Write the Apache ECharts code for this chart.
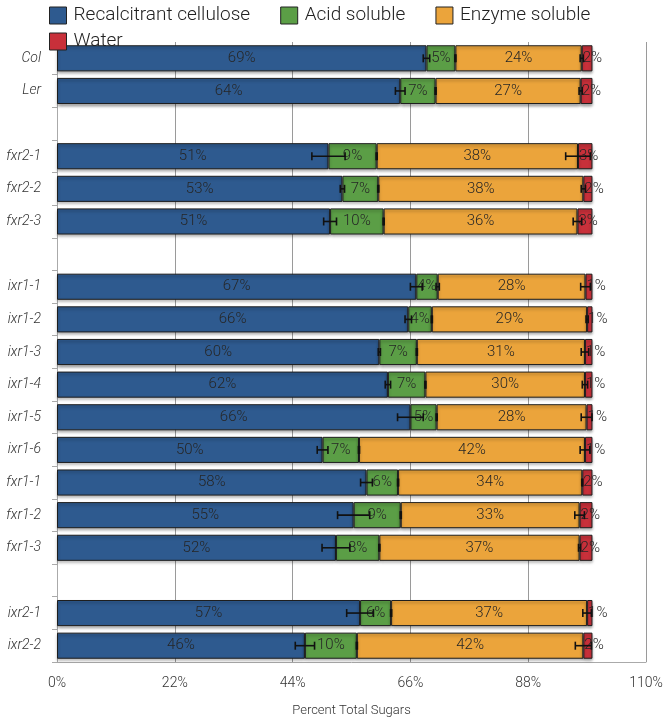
<!DOCTYPE html>
<html><head><meta charset="utf-8">
<script src="https://cdn.jsdelivr.net/npm/echarts@6/dist/echarts.min.js"></script>
<style>html,body{margin:0;padding:0;background:#fff}#c{width:666px;height:719px}</style>
</head><body><div id="c"></div>
<script>
var categories = ['Col','Ler',' ','fxr2-1','fxr2-2','fxr2-3','  ','ixr1-1','ixr1-2','ixr1-3','ixr1-4','ixr1-5','ixr1-6','fxr1-1','fxr1-2','fxr1-3','   ','ixr2-1','ixr2-2'];
var recalcitrant = [69.0,64.1,null,50.7,53.3,51.0,null,67.1,65.6,60.2,61.8,66.0,49.6,57.8,55.4,52.1,null,56.6,46.3];
var acidSoluble  = [5.4,6.6,null,9.0,6.7,10.0,null,4.0,4.4,7.0,7.0,4.9,6.8,5.9,8.8,8.1,null,5.8,9.7];
var enzymeSoluble= [23.6,27.1,null,37.6,38.3,36.2,null,27.6,29.0,31.4,29.8,28.0,42.2,34.4,33.4,37.4,null,36.6,42.3];
var water        = [2.0,2.2,null,2.7,1.7,2.8,null,1.3,1.0,1.4,1.4,1.1,1.4,1.9,2.4,2.4,null,1.0,1.7];
var errRecalcitrant = [0.6,0.9,null,3.1,0.4,1.2,null,1.1,0.6,0.2,0.5,2.4,1.0,1.1,3.0,2.6,null,2.5,1.8];
var errAcid         = [0.1,0.1,null,0.1,0.1,0.1,null,0.3,0.1,0.1,0.1,0.1,0.1,0.1,0.1,0.1,null,0.1,0.1];
var errEnzyme       = [0.3,0.3,null,2.3,0.4,0.8,null,0.9,0.2,0.7,0.5,1.0,0.9,0.1,0.9,0.2,null,0.8,1.5];
var xTicks = [0,22,44,66,88,110];

var FONT = 'Roboto';
var colors = ['#2e5a8f','#5b9e46','#eba43b','#c8303a'];
var names = ['Recalcitrant cellulose','Acid soluble','Enzyme soluble','Water'];
var vals = [recalcitrant, acidSoluble, enzymeSoluble, water];

var barSeries = vals.map(function(arr, i){
  return {
    name: names[i], type: 'bar', stack: 'total', barCategoryGap: '20%',
    data: arr.map(function(v){ return v == null ? '-' : v; }),
    itemStyle: { color: colors[i], borderColor: '#1e1e1e', borderWidth: 1,
      shadowBlur: 3, shadowColor: 'rgba(0,0,0,0.35)', shadowOffsetY: 2 },
    label: { show: true, position: i === 3 ? 'insideLeft' : 'inside', distance: 1,
      color: '#262626', fontFamily: FONT, fontSize: 15, fontWeight: 300,
      formatter: function(p){ return Math.round(p.value) + '%'; } },
    labelLayout: { hideOverlap: false },
    z: 2
  };
});

var errData = [];
for (var k = 0; k < categories.length; k++) {
  if (recalcitrant[k] == null) continue;
  var c1 = recalcitrant[k], c2 = c1 + acidSoluble[k], c3 = c2 + enzymeSoluble[k];
  errData.push([c1, k, errRecalcitrant[k]]);
  errData.push([c2, k, errAcid[k]]);
  errData.push([c3, k, errEnzyme[k]]);
}

var errSeries = {
  type: 'custom', z: 10, silent: true,
  data: errData,
  encode: { x: 0, y: 1 },
  renderItem: function(params, api){
    var c = api.value(0), y = api.value(1), e = api.value(2);
    var p1 = api.coord([c - e, y]), p2 = api.coord([c + e, y]);
    var h = 4;
    var st = { stroke: '#111', lineWidth: 1.6 };
    return { type: 'group', children: [
      { type: 'line', shape: { x1: p1[0], y1: p1[1], x2: p2[0], y2: p2[1] }, style: st },
      { type: 'line', shape: { x1: p1[0], y1: p1[1]-h, x2: p1[0], y2: p1[1]+h }, style: st },
      { type: 'line', shape: { x1: p2[0], y1: p2[1]-h, x2: p2[0], y2: p2[1]+h }, style: st }
    ]};
  }
};

var legendCommon = {
  itemWidth: 17, itemHeight: 17, itemGap: 30,
  textStyle: { fontFamily: FONT, fontSize: 19, fontWeight: 300, color: '#222', padding: [0,0,0,2] },
  itemStyle: { borderColor: '#222', borderWidth: 1 },
  icon: 'rect'
};

var chart = echarts.init(document.getElementById('c'), null, { renderer: 'canvas' });
chart.setOption({
  animation: false,
  color: colors,
  legend: [
    Object.assign({ left: 44, top: 1, data: names.slice(0,3) }, legendCommon),
    Object.assign({ left: 44, top: 27, data: names.slice(3) }, legendCommon)
  ],
  grid: { left: 57, right: 20, top: 42, bottom: 57, outerBoundsMode: 'none', containLabel: false },
  xAxis: {
    type: 'value', min: 0, max: 110, interval: 22,
    name: 'Percent Total Sugars', nameLocation: 'middle', nameGap: 42,
    nameTextStyle: { fontFamily: FONT, fontSize: 13, fontWeight: 300, color: '#333' },
    axisLine: { show: true, lineStyle: { color: '#aaa' } },
    axisTick: { show: false },
    axisLabel: { fontFamily: FONT, fontSize: 14, fontWeight: 300, color: '#333', margin: 14,
      formatter: function(v){ return xTicks.indexOf(v) >= 0 ? v + '%' : ''; } },
    splitLine: { show: true, lineStyle: { color: '#9a9a9a', width: 1 } }
  },
  yAxis: {
    type: 'category', inverse: true, data: categories,
    axisLine: { show: true, lineStyle: { color: '#aaa' } },
    axisTick: { show: true, length: 5, lineStyle: { color: '#aaa' } },
    axisLabel: { fontFamily: FONT, fontSize: 14, fontWeight: 300, fontStyle: 'italic', color: '#333', margin: 16 }
  },
  series: barSeries.concat([errSeries])
});
</script></body></html>
